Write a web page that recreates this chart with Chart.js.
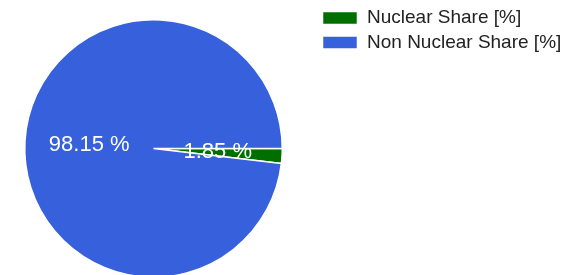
<!DOCTYPE html>
<html>
<head>
<meta charset="utf-8">
<script src="https://cdn.jsdelivr.net/npm/chart.js@4"></script>
<style>
  html, body { margin: 0; padding: 0; background: #fff; overflow: hidden; }
  #wrap { width: 578px; height: 300px; }
</style>
</head>
<body>
<div id="wrap"><canvas id="shareChart" width="578" height="300"></canvas></div>
<script>
// data
var shareLabels = ["Nuclear Share [%]", "Non Nuclear Share [%]"];
var shareValues = [1.85, 98.15];
var shareColors = ["#006f00", "#3760dc"];

// percent text on each slice, placed through the arc's own position
var sliceText = {
  id: "sliceText",
  afterDatasetsDraw: function (chart) {
    var ctx = chart.ctx;
    var meta = chart.getDatasetMeta(0);
    ctx.save();
    ctx.fillStyle = "#ffffff";
    ctx.font = "22px 'Liberation Sans', Arial, sans-serif";
    ctx.textAlign = "center";
    ctx.textBaseline = "middle";
    meta.data.forEach(function (arc, i) {
      var p = arc.tooltipPosition();
      ctx.fillText(shareValues[i].toFixed(2) + " %", p.x, p.y);
    });
    ctx.restore();
  }
};

// legend sits top right of the canvas, away from the pie
var moveLegend = {
  id: "moveLegend",
  afterLayout: function (chart) {
    var lg = chart.legend;
    lg.left = 317;
    lg.right = 578;
    lg.top = 3;
    lg.bottom = 3 + lg.height;
  }
};

var ctx = document.getElementById("shareChart").getContext("2d");
var chart = new Chart(ctx, {
  type: "pie",
  data: {
    labels: shareLabels,
    datasets: [{
      data: shareValues,
      backgroundColor: shareColors,
      borderColor: "#ffffff",
      borderWidth: 1.5
    }]
  },
  options: {
    responsive: false,
    animation: false,
    events: [],
    rotation: 90,
    layout: { padding: { left: 24, top: 19, right: 295, bottom: 22 } },
    plugins: {
      tooltip: { enabled: false },
      legend: {
        position: "chartArea",
        align: "start",
        labels: {
          boxWidth: 35,
          boxHeight: 13,
          padding: 5.5,
          color: "#222222",
          font: { family: "'Liberation Sans', Arial, sans-serif", size: 19 }
        }
      }
    }
  },
  plugins: [sliceText, moveLegend]
});
</script>
</body>
</html>
